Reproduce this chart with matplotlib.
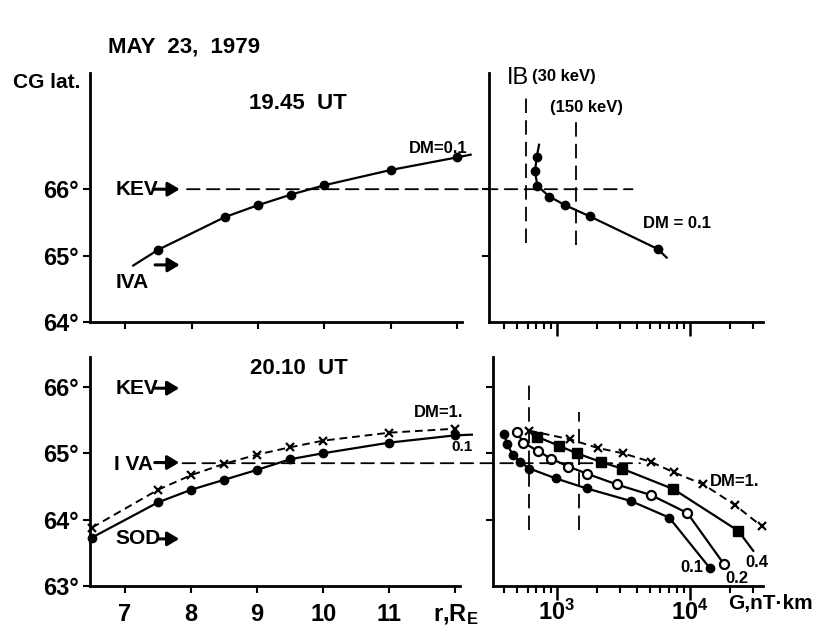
import matplotlib
matplotlib.use("Agg")
import matplotlib.pyplot as plt
from matplotlib.patches import ConnectionPatch

plt.rcParams['font.family'] = ['Liberation Sans', 'DejaVu Sans']
plt.rcParams['font.weight'] = 'bold'
plt.rcParams['mathtext.fontset'] = 'custom'
plt.rcParams['mathtext.rm'] = 'Liberation Sans:bold'
plt.rcParams['mathtext.it'] = 'Liberation Sans:bold'
plt.rcParams['mathtext.bf'] = 'Liberation Sans:bold'
plt.rcParams['mathtext.default'] = 'rm'

# ---------------- data ----------------
# top-left: 19.45 UT, DM=0.1, CG latitude vs r
r_top = [7.5, 8.5, 9.0, 9.5, 10.0, 11.0, 12.0]
lat_top = [65.09, 65.58, 65.76, 65.92, 66.06, 66.29, 66.48]
r_top_line = [7.12, 7.5, 8.5, 9.0, 9.5, 10.0, 11.0, 12.0, 12.2]
lat_top_line = [64.85, 65.09, 65.58, 65.76, 65.92, 66.06, 66.29, 66.48, 66.52]

# top-right: 19.45 UT, DM=0.1, latitude vs G
G_top = [703, 684, 711, 875, 1149, 1770, 5710]
latG_top = [66.48, 66.27, 66.05, 65.89, 65.76, 65.59, 65.10]
G_top_line = [733, 703, 684, 711, 875, 1149, 1770, 5710, 6680]
latG_top_line = [66.67, 66.48, 66.27, 66.05, 65.89, 65.76, 65.59, 65.10, 64.97]

# bottom-left: 20.10 UT
r_bot = [6.5, 7.5, 8.0, 8.5, 9.0, 9.5, 10.0, 11.0, 12.0]
lat_bot_dm01 = [63.73, 64.26, 64.45, 64.60, 64.75, 64.91, 65.00, 65.16, 65.27]
lat_bot_dm1 = [63.88, 64.45, 64.67, 64.84, 64.98, 65.09, 65.19, 65.31, 65.37]
r_bot_line01 = [6.5, 7.5, 8.0, 8.5, 9.0, 9.5, 10.0, 11.0, 12.0, 12.25]
lat_bot_line01 = [63.73, 64.26, 64.45, 64.60, 64.75, 64.91, 65.00, 65.16, 65.27, 65.28]

# bottom-right: 20.10 UT, latitude vs G for several DM
G_dm01 = [402, 419, 465, 527, 620, 982, 1671, 3600, 6980, 14100]
lat_dm01 = [65.29, 65.14, 64.98, 64.87, 64.77, 64.62, 64.47, 64.28, 64.03, 63.27]
G_dm02 = [498, 558, 723, 901, 1216, 1690, 2810, 5090, 9550, 18000]
lat_dm02 = [65.32, 65.16, 65.03, 64.92, 64.80, 64.69, 64.53, 64.37, 64.10, 63.33]
G_dm04 = [703, 1042, 1406, 2130, 3060, 7500, 23100]
lat_dm04 = [65.25, 65.11, 65.00, 64.87, 64.77, 64.46, 63.83]
G_dm04_line = [703, 1042, 1406, 2130, 3060, 7500, 23100, 29900]
lat_dm04_line = [65.25, 65.11, 65.00, 64.87, 64.77, 64.46, 63.83, 63.53]
G_dm1 = [620, 1253, 2020, 3120, 5090, 7590, 12600, 21800, 34600]
lat_dm1 = [65.34, 65.21, 65.08, 65.00, 64.87, 64.71, 64.53, 64.22, 63.90]

# boundaries
KEV_top = 66.0
IVA_bot = 64.85
G_30keV_top, G_150keV_top = 585, 1382
G_30keV_bot, G_150keV_bot = 620, 1472

r_ticks = [7, 8, 9, 10, 11, 12]
r_ticklabels = ['7', '8', '9', '10', '11', r'r,R$_E$']
lat_ticks_top = [64, 65, 66]
lat_ticks_bot = [63, 64, 65, 66]

# ---------------- figure ----------------
W, H = 816, 627
fig = plt.figure(figsize=(W / 100, H / 100), dpi=100)

def ax_px(x0, x1, y0, y1):
    return fig.add_axes([x0 / W, 1 - y1 / H, (x1 - x0) / W, (y1 - y0) / H])

axTL = ax_px(90, 462, 73, 322)
axTR = ax_px(489, 763, 73, 322)
axBL = ax_px(90, 460, 357, 586)
axBR = ax_px(493, 763, 357, 586)

LW = 1.6
for ax in (axTL, axTR, axBL, axBR):
    for s in ('top', 'right'):
        ax.spines[s].set_visible(False)
    for s in ('left', 'bottom'):
        ax.spines[s].set_linewidth(2.0)
    ax.tick_params(direction='out', length=5, width=1.5, labelsize=17, pad=3)
    ax.patch.set_alpha(0)

# limits
for ax in (axTL, axBL):
    ax.set_xlim(6.47, 12.07)
for ax in (axTR, axBR):
    ax.set_xscale('log')
axTR.set_xlim(308, 35400)
axBR.set_xlim(330, 35400)
axTL.set_ylim(64, 67.75)
axTR.set_ylim(64, 67.75)
axBL.set_ylim(63, 66.45)
axBR.set_ylim(63, 66.45)

# ticks
axTL.set_xticks(r_ticks)
axTL.set_xticklabels([])
axTL.set_yticks(lat_ticks_top)
axTL.set_yticklabels([f'{t}°' for t in lat_ticks_top])
axBL.set_xticks(r_ticks)
axBL.set_xticklabels(r_ticklabels)
axBL.set_yticks(lat_ticks_bot)
axBL.set_yticklabels([f'{t}°' for t in lat_ticks_bot])
axBL.tick_params(axis='x', pad=7)
axTR.set_yticks([65, 66])
axTR.set_yticklabels([])
axBR.set_yticks([64, 65, 66])
axBR.set_yticklabels([])
for ax in (axTR, axBR):
    ax.tick_params(axis='x', which='major', length=10, width=1.8)
    ax.tick_params(axis='x', which='minor', length=5, width=1.5)
    ax.xaxis.set_minor_formatter(matplotlib.ticker.NullFormatter())
axTR.tick_params(axis='x', which='major', labelbottom=False)
axBR.set_xticks([1e3, 1e4])
axBR.set_xticklabels([r'$10^3$', r'$10^4$'])
axBR.tick_params(axis='x', pad=0)

mk = dict(color='k', markersize=6)
dash_long = (0, (7, 4))
dash_short = (0, (4, 2.5))

# ---- top-left ----
axTL.plot(r_top_line, lat_top_line, '-', color='k', lw=LW, clip_on=False)
axTL.plot(r_top, lat_top, 'o', **mk, clip_on=False)
axTL.text(9.6, 67.29, '19.45  UT', fontsize=16, ha='center', va='center')
axTL.text(11.71, 66.62, 'DM=0.1', fontsize=12, ha='center', va='center')
axTL.text(6.86, 66.0, 'KEV', fontsize=15, ha='left', va='center')
axTL.text(6.86, 64.6, 'IVA', fontsize=15, ha='left', va='center')
arrow = dict(arrowstyle='-|>,head_length=0.5,head_width=0.3', lw=2.2, color='k',
             mutation_scale=14, shrinkA=0, shrinkB=0)
axTL.annotate('', xy=(7.82, 66.0), xytext=(7.42, 66.0), arrowprops=arrow)
axTL.annotate('', xy=(7.82, 64.86), xytext=(7.45, 64.86), arrowprops=arrow)

# ---- top-right ----
axTR.plot(G_top_line, latG_top_line, '-', color='k', lw=LW)
axTR.plot(G_top, latG_top, 'o', **mk)
axTR.plot([G_30keV_top, G_30keV_top], [65.19, 67.46], color='k', lw=1.3, linestyle=(0, (8, 4)), clip_on=False)
axTR.plot([G_150keV_top, G_150keV_top], [65.16, 67.07], color='k', lw=1.3, linestyle=(0, (8, 4)), clip_on=False)
axTR.text(421, 67.67, 'IB', fontsize=17, ha='left', va='center', weight='normal', clip_on=False)
axTR.text(649, 67.69, '(30 keV)', fontsize=12, ha='left', va='center', clip_on=False)
axTR.text(1652, 67.23, '(150 keV)', fontsize=12, ha='center', va='center')
axTR.text(7980, 65.49, 'DM = 0.1', fontsize=12, ha='center', va='center')

con = ConnectionPatch(xyA=(7.93, KEV_top), coordsA=axTL.transData,
                      xyB=(3700, KEV_top), coordsB=axTR.transData,
                      color='k', lw=1.3, linestyle=dash_long)
fig.add_artist(con)

# ---- bottom-left ----
axBL.plot(r_bot, lat_bot_dm1, linestyle=dash_short, color='k', lw=1.4, clip_on=False)
axBL.plot(r_bot, lat_bot_dm1, 'x', color='k', markersize=6, mew=1.6, clip_on=False)
axBL.plot(r_bot_line01, lat_bot_line01, '-', color='k', lw=LW, clip_on=False)
axBL.plot(r_bot, lat_bot_dm01, 'o', **mk, clip_on=False)
axBL.text(9.63, 66.27, '20.10  UT', fontsize=16, ha='center', va='center')
axBL.text(11.74, 65.62, 'DM=1.', fontsize=12, ha='center', va='center')
axBL.text(12.1, 65.09, '0.1', fontsize=11, ha='center', va='center')
axBL.text(6.86, 65.98, 'KEV', fontsize=15, ha='left', va='center')
axBL.text(6.84, 64.83, 'I VA', fontsize=15, ha='left', va='center')
axBL.text(6.86, 63.71, 'SOD', fontsize=15, ha='left', va='center')
axBL.annotate('', xy=(7.82, 65.98), xytext=(7.45, 65.98), arrowprops=arrow)
axBL.annotate('', xy=(7.82, 64.86), xytext=(7.45, 64.86), arrowprops=arrow)
axBL.annotate('', xy=(7.82, 63.71), xytext=(7.5, 63.71), arrowprops=arrow)

# ---- bottom-right ----
axBR.plot(G_dm01, lat_dm01, '-o', **mk, lw=LW)
axBR.plot(G_dm02, lat_dm02, '-', color='k', lw=LW)
axBR.plot(G_dm02, lat_dm02, 'o', color='k', markerfacecolor='white', markersize=6.5, mew=1.6)
axBR.plot(G_dm04_line, lat_dm04_line, '-', color='k', lw=LW)
axBR.plot(G_dm04, lat_dm04, 's', color='k', markersize=7)
axBR.plot(G_dm1, lat_dm1, linestyle=dash_short, color='k', lw=1.4)
axBR.plot(G_dm1, lat_dm1, 'x', color='k', markersize=6, mew=1.6, clip_on=False)
axBR.plot([G_30keV_bot, G_30keV_bot], [63.85, 66.07], color='k', lw=1.3, linestyle=(0, (8, 4)))
axBR.plot([G_150keV_bot, G_150keV_bot], [63.85, 65.62], color='k', lw=1.3, linestyle=(0, (8, 4)))
axBR.text(21800, 64.58, 'DM=1.', fontsize=12, ha='center', va='center')
axBR.text(10350, 63.28, '0.1', fontsize=12, ha='center', va='center')
axBR.text(22500, 63.12, '0.2', fontsize=12, ha='center', va='center')
axBR.text(31900, 63.35, '0.4', fontsize=12, ha='center', va='center', clip_on=False)
axBR.text(0.87, -0.035, 'G,nT·km', fontsize=15, ha='left', va='top', transform=axBR.transAxes)

con2 = ConnectionPatch(xyA=(7.57, IVA_bot), coordsA=axBL.transData,
                       xyB=(4210, IVA_bot), coordsB=axBR.transData,
                       color='k', lw=1.3, linestyle=dash_long)
fig.add_artist(con2)

# ---- figure labels ----
fig.text(108 / W, 1 - 47 / H, 'MAY  23,  1979', fontsize=16, ha='left', va='center')
fig.text(13 / W, 1 - 83 / H, 'CG lat.', fontsize=15, ha='left', va='center')

fig.savefig('out.png', dpi=100)
